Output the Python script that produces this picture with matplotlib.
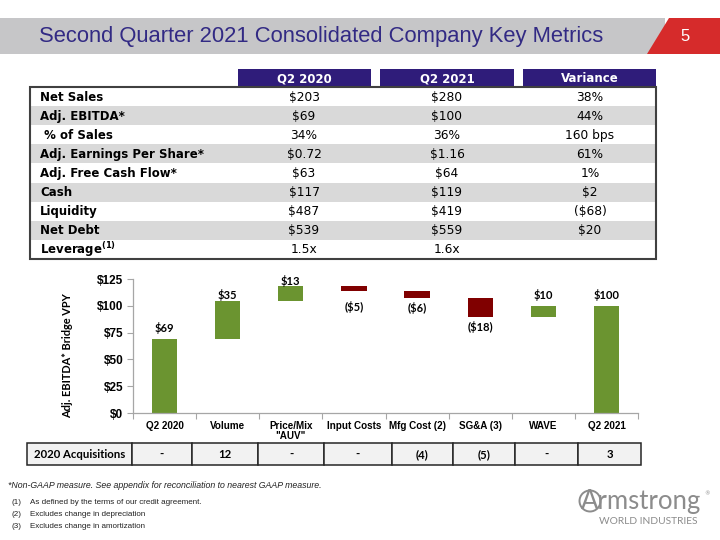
import matplotlib
matplotlib.use("Agg")
import matplotlib.pyplot as plt
from matplotlib.patches import Rectangle, Polygon, Circle
import numpy as np

# ---------------- data ----------------
title = "Second Quarter 2021 Consolidated Company Key Metrics"
page_no = "5"

col_headers = ["Q2 2020", "Q2 2021", "Variance"]
metrics = ["Net Sales", "Adj. EBITDA*", " % of Sales", "Adj. Earnings Per Share*",
           "Adj. Free Cash Flow*", "Cash", "Liquidity", "Net Debt", "Leverage$^{\\mathbf{(1)}}$"]
q2_2020 = ["$203", "$69", "34%", "$0.72", "$63", "$117", "$487", "$539", "1.5x"]
q2_2021 = ["$280", "$100", "36%", "$1.16", "$64", "$119", "$419", "$559", "1.6x"]
variance = ["38%", "44%", "160 bps", "61%", "1%", "$2", "($68)", "$20", ""]

bridge_cats = ["Q2 2020", "Volume", "Price/Mix\n\"AUV\"", "Input Costs", "Mfg Cost (2)",
               "SG&A (3)", "WAVE", "Q2 2021"]
start_value = 69.0
changes = [35.4, 13.9, -4.7, -6.2, -17.7, 10.3]
end_value = 100.0
bridge_labels = ["$69", "$35", "$13", "($5)", "($6)", "($18)", "$10", "$100"]
ytick_vals = [0, 25, 50, 75, 100, 125]
ytick_labels = ["$0", "$25", "$50", "$75", "$100", "$125"]

acq_title = "2020 Acquisitions"
acq_values = ["-", "12", "-", "-", "(4)", "(5)", "-", "3"]

footnote_star = "*Non-GAAP measure. See appendix for reconciliation to nearest GAAP measure."
footnotes = [("(1)", "As defined by the terms of our credit agreement."),
             ("(2)", "Excludes change in depreciation"),
             ("(3)", "Excludes change in amortization")]

# ---------------- style ----------------
GREEN = "#6B9430"
RED = "#800000"
PURPLE = "#2F1C7A"
TITLE_COL = "#322A84"
ROWGRAY = "#D9D9D9"

fig = plt.figure(figsize=(7.2, 5.4), dpi=100)
ax0 = fig.add_axes([0, 0, 1, 1])
ax0.set_xlim(0, 720)
ax0.set_ylim(540, 0)
ax0.axis("off")

# header band
ax0.add_patch(Rectangle((0, 18.3), 665, 36, color="#C6C6C8", lw=0))
ax0.add_patch(Polygon([(669, 18.3), (720, 18.3), (720, 54.3), (647, 54.3)],
                      closed=True, color="#D62B2B", lw=0))
ax0.text(39, 36.5, title, fontsize=15.8, color=TITLE_COL, family="Liberation Sans",
         va="center", ha="left")
ax0.text(685, 36.5, page_no, fontsize=12, color="white", family="Liberation Sans",
         va="center", ha="center")

# metrics table
hdr_x = [(238, 371), (380, 514), (523, 656)]
val_cx = [304, 447, 590]
for (x0, x1), h in zip(hdr_x, col_headers):
    ax0.add_patch(Rectangle((x0, 69), x1 - x0, 18, color=PURPLE, lw=0))
    ax0.text((x0 + x1) / 2, 78.5, h, fontsize=8.5, color="white", family="DejaVu Sans",
             fontweight="bold", ha="center", va="center")

top, rh = 87.0, 19.1
n = len(metrics)
for i in range(n):
    y0 = top + i * rh
    if i % 2 == 1:
        ax0.add_patch(Rectangle((30, y0), 626, rh, color=ROWGRAY, lw=0))
    yc = y0 + rh / 2 + 0.5
    ax0.text(40, yc, metrics[i], fontsize=8.5, family="DejaVu Sans", fontweight="bold",
             ha="left", va="center", color="black")
    for cx, col in zip(val_cx, [q2_2020, q2_2021, variance]):
        ax0.text(cx, yc, col[i], fontsize=8.8, family="DejaVu Sans",
                 ha="center", va="center", color="black")
ax0.add_patch(Rectangle((30, top), 626, rh * n, fill=False, edgecolor="#404040", lw=1.5))

# acquisitions table
bounds = [27, 132, 192, 258, 324, 392, 453, 515, 578, 641]
cells = [acq_title] + acq_values
for k, txt in enumerate(cells):
    x0, x1 = bounds[k], bounds[k + 1]
    ax0.add_patch(Rectangle((x0, 443), x1 - x0, 22, facecolor="#F2F2F2",
                            edgecolor="#262626", lw=1.1))
    ax0.text((x0 + x1) / 2, 454.5, txt, fontsize=8.2, family="Lato", fontweight="bold",
             ha="center", va="center", color="black")

# footnotes
ax0.text(8, 485.5, footnote_star, fontsize=6.3, style="italic", family="Liberation Sans",
         ha="left", va="center", color="#222222")
for j, (num, txt) in enumerate(footnotes):
    y = 503 + 12 * j
    ax0.text(12, y, num, fontsize=5.8, family="Liberation Sans", ha="left", va="center",
             color="#222222")
    ax0.text(30, y, txt, fontsize=5.8, family="Liberation Sans", ha="left", va="center",
             color="#222222")

# logo
LOGO = "#8C8C8C"
ax0.text(581, 502, "Armstrong", fontsize=18.5, family="Lato", color=LOGO,
         ha="left", va="center")
ax0.add_patch(Circle((590, 501), 10.5, fill=False, edgecolor=LOGO, lw=1.4))
ax0.text(704, 494, "\u00ae", fontsize=4, family="DejaVu Sans", color=LOGO,
         ha="left", va="center")
ax0.text(648.5, 522, "WORLD INDUSTRIES", fontsize=7.4, family="Lato", color=LOGO,
         ha="center", va="center")

# ---------------- waterfall ----------------
ax = fig.add_axes([133 / 720, (540 - 413) / 540, (638 - 133) / 720, (413 - 279) / 540])
levels = np.concatenate([[start_value], start_value + np.cumsum(changes)])
bottoms = [0.0] + [min(levels[i], levels[i + 1]) for i in range(len(changes))] + [0.0]
heights = [start_value] + [abs(c) for c in changes] + [end_value]
colors = [GREEN] + [GREEN if c > 0 else RED for c in changes] + [GREEN]
x = np.arange(len(bridge_cats))
ax.bar(x, heights, bottom=bottoms, width=0.4, color=colors, edgecolor="none")

signs = [1] + [1 if c > 0 else -1 for c in changes] + [1]
label_gap_px = [11, 6.5, 5, 15.7, 10.6, 10.6, 11, 11]
for xi, b, h, s, lab, g in zip(x, bottoms, heights, signs, bridge_labels, label_gap_px):
    if s > 0:
        ax.annotate(lab, (xi, b + h), xytext=(0, g * 0.72), textcoords="offset points",
                    ha="center", va="center", fontsize=8, family="Lato", fontweight="bold")
    else:
        ax.annotate(lab, (xi, b), xytext=(0, -g * 0.72), textcoords="offset points",
                    ha="center", va="center", fontsize=8, family="Lato", fontweight="bold")

ax.set_xlim(-0.5, len(bridge_cats) - 0.5)
ax.set_ylim(0, 125)
ax.set_yticks(ytick_vals)
ax.set_yticklabels(ytick_labels, fontsize=8.5, fontweight="bold", family="Liberation Sans")
ax.set_xticks(x)
ax.set_xticklabels(bridge_cats, fontsize=7.1, fontweight="bold", family="Liberation Sans",
                   linespacing=1.0)
ax.set_xticks(np.arange(-0.5, len(bridge_cats)), minor=True)
ax.tick_params(axis="x", which="major", length=0, pad=6)
ax.tick_params(axis="x", which="minor", length=4, color="#A6A6A6", width=0.8)
ax.tick_params(axis="y", length=4, color="#A6A6A6", width=0.8, pad=3)
for sp in ["top", "right"]:
    ax.spines[sp].set_visible(False)
for sp in ["left", "bottom"]:
    ax.spines[sp].set_color("#A6A6A6")
    ax.spines[sp].set_linewidth(0.9)
ax.set_facecolor("none")
ax.set_ylabel("Adj. EBITDA* Bridge VPY", fontsize=7.9, family="Lato", fontweight="bold")
ax.yaxis.set_label_coords(-(133 - 73) / (638 - 133), (413 - 356) / (413 - 279))

fig.savefig("out.png", dpi=100)
